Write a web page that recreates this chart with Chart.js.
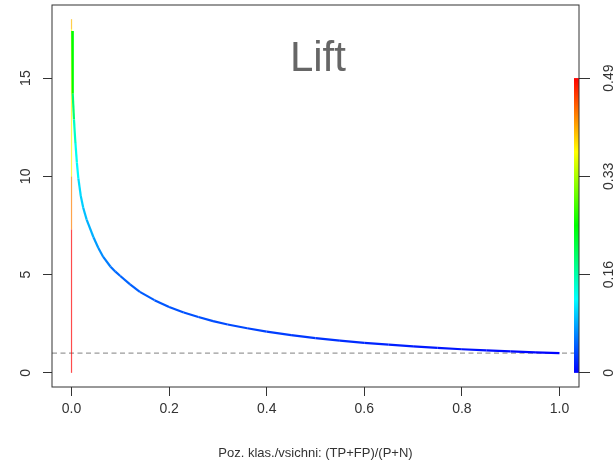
<!DOCTYPE html>
<html>
<head>
<meta charset="utf-8">
<script src="https://cdn.jsdelivr.net/npm/chart.js@4.4.1/dist/chart.umd.min.js"></script>
<style>
  body { margin: 0; background: #fff; }
  canvas { display: block; }
</style>
</head>
<body>
<canvas id="liftChart" width="616" height="462"></canvas>
<script>
// hodnoty
const rpp = [0.0016, 0.0025, 0.005, 0.008, 0.011, 0.014, 0.019, 0.024, 0.031, 0.045, 0.055, 0.065, 0.08, 0.09, 0.1, 0.12, 0.14, 0.17, 0.2, 0.23, 0.26, 0.29, 0.32, 0.36, 0.4, 0.45, 0.5, 0.55, 0.6, 0.65, 0.7, 0.75, 0.8, 0.85, 0.9, 0.95, 1.0];
const lift = [17.4, 14.2, 12.9, 11.7, 10.7, 9.9, 9.0, 8.4, 7.8, 6.9, 6.35, 5.9, 5.4, 5.15, 4.93, 4.5, 4.12, 3.7, 3.35, 3.07, 2.84, 2.63, 2.46, 2.27, 2.1, 1.92, 1.77, 1.64, 1.53, 1.44, 1.35, 1.27, 1.2, 1.14, 1.09, 1.04, 1.0];
const cutoff = [0.245, 0.19, 0.15, 0.13, 0.12, 0.105, 0.1, 0.092, 0.085, 0.075, 0.068, 0.06, 0.053, 0.05, 0.048, 0.046, 0.044, 0.042, 0.04, 0.039, 0.038, 0.036, 0.035, 0.032, 0.03, 0.027, 0.024, 0.021, 0.018, 0.015, 0.012, 0.01, 0.008, 0.006, 0.004, 0.002, 0];
// svislý začátek křivky v x = 0
const startLift = [0, 7.3, 10, 17.5, 18];
const startCutoff = [0.49, 0.43, 0.37, 0.40, 0.40];
const baseLift = 1;

const xTicks = [0, 0.2, 0.4, 0.6, 0.8, 1.0];
const yTicks = [0, 5, 10, 15];
const cutoffMax = 0.49;
const cutoffTicks = [0, cutoffMax / 3, cutoffMax * 2 / 3, cutoffMax];

const titleText = 'Lift';
const xTitle = 'Poz. klas./vsichni: (TP+FP)/(P+N)';

// rozsah os jako v R (4 % navíc)
const xMin = 0 - 0.04 * 1, xMax = 1 + 0.04 * 1;
const yMin = 0 - 0.04 * 18, yMax = 18 + 0.04 * 18;
const barTop = 15; // horní okraj barevné škály v jednotkách osy y

const font = { family: '"Liberation Sans", Arial, sans-serif', size: 14 };
const ink = '#333';

function cutoffColor(c, alpha) {
    const t = Math.min(Math.max(c / cutoffMax, 0), 1);
    return 'hsla(' + (240 * (1 - t)) + ',100%,50%,' + (alpha || 1) + ')';
}

// bez automatického odsazení kvůli popiskům
function noPad(s) {
    s.paddingTop = 0; s.paddingBottom = 0; s.paddingLeft = 0; s.paddingRight = 0;
}

const framePlugin = {
    id: 'rFrame',
    afterDatasetsDraw(chart) {
        const { ctx, chartArea: a, scales } = chart;
        ctx.save();
        // barevná škála
        const yc = scales.yc;
        const top = yc.getPixelForValue(cutoffMax), bottom = yc.getPixelForValue(0);
        const grad = ctx.createLinearGradient(0, bottom, 0, top);
        for (let i = 0; i <= 12; i++) grad.addColorStop(i / 12, cutoffColor(cutoffMax * i / 12));
        ctx.fillStyle = grad;
        ctx.fillRect(a.right - 5, top, 5, bottom - top);
        // rámeček
        ctx.strokeStyle = ink;
        ctx.lineWidth = 1;
        ctx.strokeRect(a.left, a.top, a.right - a.left, a.bottom - a.top);
        // nadpis uvnitř grafu
        ctx.fillStyle = '#666';
        ctx.font = '42px ' + font.family;
        ctx.textAlign = 'center';
        ctx.textBaseline = 'alphabetic';
        ctx.fillText(titleText, scales.x.getPixelForValue(0.505), scales.y.getPixelForValue(15.35));
        ctx.restore();
    }
};

new Chart(document.getElementById('liftChart'), {
    type: 'scatter',
    data: {
        datasets: [{
            data: rpp.map((x, i) => ({ x: x, y: lift[i] })),
            showLine: true,
            borderWidth: 2.2,
            pointRadius: 0,
            segment: { borderColor: c => cutoffColor(cutoff[c.p0DataIndex]) }
        }, {
            data: startLift.map(y => ({ x: 0, y: y })),
            showLine: true,
            borderWidth: 1.2,
            pointRadius: 0,
            segment: { borderColor: c => cutoffColor(startCutoff[c.p0DataIndex], 0.7) }
        }, {
            data: [{ x: xMin, y: baseLift }, { x: xMax, y: baseLift }],
            showLine: true,
            borderColor: '#9a9a9a',
            borderWidth: 1.3,
            borderDash: [5, 3.5],
            pointRadius: 0
        }]
    },
    options: {
        responsive: false,
        animation: false,
        layout: { padding: { top: 5, left: 0, right: 0, bottom: 0 } },
        plugins: { legend: { display: false }, tooltip: { enabled: false } },
        scales: {
            x: {
                type: 'linear', position: 'bottom', min: xMin, max: xMax,
                afterBuildTicks: s => { s.ticks = xTicks.map(v => ({ value: v })); },
                afterFit: s => { s.height = 75; noPad(s); },
                ticks: { callback: v => v.toFixed(1), font: font, color: ink, padding: 5, autoSkip: false, maxRotation: 0 },
                grid: { drawOnChartArea: false, tickLength: 9, color: ink },
                border: { display: false },
                title: { display: true, text: xTitle, font: { family: font.family, size: 13 }, color: ink, padding: { top: 0, bottom: 1 } }
            },
            y: {
                type: 'linear', position: 'left', min: yMin, max: yMax,
                afterBuildTicks: s => { s.ticks = yTicks.map(v => ({ value: v })); },
                afterFit: s => { s.width = 52; noPad(s); },
                ticks: { callback: v => String(v), font: font, color: ink, padding: 9, minRotation: 90, maxRotation: 90, crossAlign: 'center' },
                grid: { drawOnChartArea: false, tickLength: 9, color: ink },
                border: { display: false }
            },
            yc: {
                type: 'linear', position: 'right',
                min: yMin * cutoffMax / barTop, max: yMax * cutoffMax / barTop,
                afterBuildTicks: s => { s.ticks = cutoffTicks.map(v => ({ value: v })); },
                afterFit: s => { s.width = 37; noPad(s); },
                ticks: { callback: v => v === 0 ? '0' : v.toFixed(2), font: font, color: ink, padding: 6, minRotation: 90, maxRotation: 90, crossAlign: 'center' },
                grid: { drawOnChartArea: false, tickLength: 11, color: ink },
                border: { display: false }
            }
        }
    },
    plugins: [framePlugin]
});
</script>
</body>
</html>
